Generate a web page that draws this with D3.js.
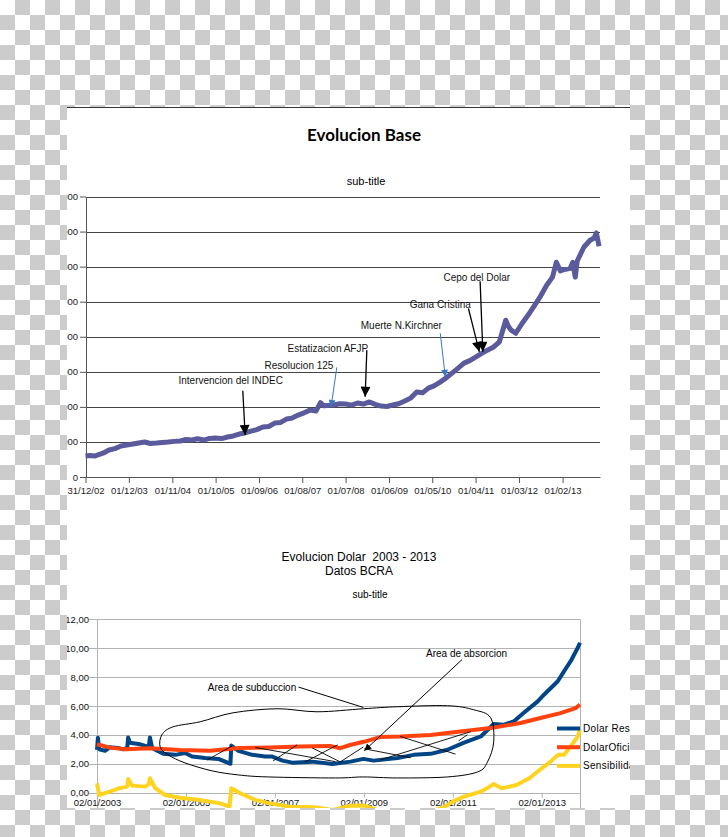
<!DOCTYPE html>
<html>
<head>
<meta charset="utf-8">
<script src="https://cdn.jsdelivr.net/npm/d3@7"></script>
<style>
body { margin: 0; }
text { font-family: "Liberation Sans", Arial, sans-serif; white-space: pre; }
</style>
</head>
<body>
<script>
//base monetaria (millones de pesos)
var baseDates = ["2002-12-31","2003-02-01","2003-03-15","2003-04-01","2003-05-15","2003-07-01","2003-08-15","2003-10-01","2003-11-15",
    "2004-01-01","2004-02-15","2004-04-01","2004-05-15","2004-07-01","2004-08-15","2004-10-01","2004-11-15",
    "2005-01-01","2005-02-15","2005-04-01","2005-05-15","2005-07-01","2005-08-15","2005-10-01","2005-11-15",
    "2006-01-01","2006-02-15","2006-04-01","2006-05-15","2006-07-01","2006-08-15","2006-10-01","2006-11-15",
    "2007-01-01","2007-02-15","2007-04-01","2007-05-15","2007-07-01","2007-08-15","2007-10-01","2007-11-15","2007-12-20",
    "2008-01-15","2008-04-01","2008-05-15","2008-07-01","2008-08-15","2008-10-01","2008-11-15",
    "2009-01-01","2009-02-15","2009-04-01","2009-05-15","2009-07-01","2009-08-15","2009-10-01","2009-11-15",
    "2010-01-01","2010-02-15","2010-04-01","2010-05-15","2010-07-01","2010-08-15","2010-10-01","2010-11-15",
    "2011-01-01","2011-02-15","2011-04-01","2011-05-15","2011-07-01","2011-08-15","2011-10-01","2011-11-20","2011-12-10",
    "2012-01-01","2012-02-05","2012-04-01","2012-05-15","2012-07-01","2012-08-15","2012-10-01","2012-11-15","2012-12-15",
    "2013-01-15","2013-02-15","2013-04-01","2013-04-20","2013-05-10","2013-05-25","2013-07-15","2013-09-01","2013-10-01","2013-10-20","2013-11-10"];
var baseValues = [29900,30500,29800,31300,34000,38500,40500,44200,45500,
    47000,48500,49900,47800,48400,49200,49900,50800,
    51300,53500,52700,54500,52700,55000,55500,54800,
    57000,58500,61300,62800,65500,67500,71200,72000,
    76900,77800,82600,84000,88300,91500,95400,94000,106000,
    101500,102600,104500,104000,102500,105400,104000,
    107000,103500,101100,100500,102600,104500,108300,112500,
    121100,120000,126800,130000,135300,141000,148100,155000,
    162400,166000,170900,176000,180900,185000,192300,223600,215000,
    209400,205000,220800,232000,245000,258000,273500,285000,306300,
    294000,296000,297700,306000,285000,308000,327600,337600,340500,348000,329100];

var baseTickDates = ["2002-12-31","2003-12-01","2004-11-01","2005-10-01","2006-09-01","2007-08-01",
    "2008-07-01","2009-06-01","2010-05-01","2011-04-01","2012-03-01","2013-02-01"];
var baseTickValues = [0,50000,100000,150000,200000,250000,300000,350000,400000];

//events on the top chart: label, label anchor date/value, arrow start and tip
var eventLabels = ["Intervencion del INDEC","Resolucion 125","Estatizacion AFJP","Muerte N.Kirchner","Gana Cristina","Cepo del Dolar"];
var eventTextDates = ["2004-12-18","2008-03-29","2008-12-22","2010-07-15","2011-02-23","2010-07-27"];
var eventTextValues = [132500,153800,178100,210800,240700,279200];
var eventTextAnchor = ["start","end","end","end","end","start"];
var eventFromDates = ["2006-04-29","2008-04-24","2008-12-12","2010-07-02","2011-02-05","2011-05-06"];
var eventFromValues = [122900,156300,180900,205100,240300,279200];
var eventToDates = ["2006-05-17","2008-03-11","2008-11-29","2010-08-10","2011-04-30","2011-05-27"];
var eventToValues = [59800,100100,114400,142900,178500,178500];
var eventColors = ["black","blue","black","blue","black","black"];

//dolar series (decimal years)
var resguardoYears = [2003.00,2003.02,2003.05,2003.18,2003.29,2003.47,2003.59,2003.68,2003.70,2003.74,2003.97,2004.13,2004.17,2004.19,2004.24,2004.31,2004.49,2004.76,2004.98,
    2005.14,2005.43,2005.73,2005.95,2006.00,2006.02,2006.18,2006.49,2006.78,2006.94,2007.17,2007.39,2007.84,2008.29,2008.70,2008.99,2009.22,2009.76,
    2010.12,2010.50,2010.88,2011.24,2011.63,2011.92,2012.14,2012.37,2012.59,2012.91,2013.05,2013.36,2013.50,2013.65,2013.81,2013.86];
var resguardoValues = [2.97,3.80,3.00,2.90,3.15,3.10,3.00,3.10,3.82,3.45,3.35,3.20,3.30,3.82,3.10,2.97,2.70,2.62,2.75,
    2.50,2.40,2.34,2.06,2.00,3.26,2.90,2.62,2.50,2.50,2.22,2.08,2.15,1.99,2.15,2.34,2.22,2.40,
    2.62,2.69,2.97,3.45,3.89,4.75,4.70,4.93,5.51,6.32,6.78,7.71,8.40,9.10,10.03,10.38];

var oficialYears = [2003.00,2003.29,2003.63,2004.19,2004.86,2005.54,2006.21,2006.89,2007.56,2008.24,2008.47,2008.69,2009.02,2009.36,2009.82,
    2010.50,2011.17,2011.85,2012.52,2012.97,2013.42,2013.76,2013.86];
var oficialValues = [3.35,3.12,3.00,3.08,2.96,2.90,3.10,3.13,3.20,3.24,3.08,3.30,3.54,3.85,3.89,
    4.00,4.24,4.47,4.82,5.17,5.51,5.86,6.09];

var sensibYears = [2003.00,2003.05,2003.29,2003.52,2003.68,2003.70,2003.79,2004.08,2004.17,2004.19,2004.31,2004.53,2004.86,2005.31,2005.77,2005.98,
    2006.02,2006.22,2006.56,2006.89,2007.34,2007.90,2008.30,2008.70,2009.00,2009.40,2010.00,2010.50,2010.80,
    2011.00,2011.24,2011.63,2011.83,2011.92,2012.10,2012.43,2012.72,2013.00,2013.20,2013.37,2013.50,2013.65,2013.81,2013.86];
var sensibValues = [0.65,-0.16,0.07,0.33,0.42,0.95,0.49,0.42,0.60,1.00,0.31,-0.16,-0.35,-0.50,-0.74,-0.97,
    0.31,-0.04,-0.50,-0.74,-0.97,-1.00,-1.20,-0.90,-0.88,-1.30,-1.60,-1.30,-1.00,
    -0.62,-0.28,0.07,0.42,0.60,0.30,0.53,1.00,1.69,2.15,2.62,2.62,3.19,3.89,4.35];

var dolarNames = ["Dolar Resguardo","DolarOficial","Sensibilidad"];
var dolarColors = ["#004586","#ff420e","#ffd320"];
var dolarTickYears = [2003,2005,2007,2009,2011,2013];
var dolarTickValues = [0,2,4,6,8,10,12];

//hand drawn notes on the bottom chart, in chart units (year, value)
var loopYears = [2004.46,2004.71,2005.32,2006.06,2007.05,2007.95,2008.99,2009.76,2010.88,2011.47,2011.85,2011.92,
    2011.78,2011.56,2010.88,2009.76,2008.99,2008.36,2006.85,2006.18,2005.59,2004.98,2004.60,2004.42];
var loopValues = [4.01,4.56,4.91,5.53,5.81,5.60,5.81,5.95,6.02,5.74,5.19,3.52,
    2.13,1.44,1.09,1.02,1.09,1.02,1.09,1.23,1.51,2.06,2.62,3.17];
var strokeFrom = [[2005.48,2.27],[2006.56,3.13],[2006.96,2.20],[2007.68,2.13],[2007.84,3.10],[2008.47,2.13],[2009.01,3.04],[2009.82,3.89],[2009.37,2.27],[2011.13,3.59]];
var strokeTo = [[2006.04,3.24],[2008.36,2.15],[2007.50,3.31],[2008.41,3.31],[2008.47,2.13],[2008.99,3.17],[2010.05,2.42],[2011.06,2.67],[2011.40,4.22],[2011.33,4.01]];

window.onload = setPage();

function setPage(){
    var width = 728,
        height = 837;

    var svg = d3.select("body")
        .append("svg")
        .attr("width", width)
        .attr("height", height);

    var defs = svg.append("defs");

    //transparent background checkerboard
    var pat = defs.append("pattern")
        .attr("id", "checker")
        .attr("patternUnits", "userSpaceOnUse")
        .attr("width", 30)
        .attr("height", 30);
    pat.append("rect").attr("width", 30).attr("height", 30).attr("fill", "#ffffff");
    pat.append("rect").attr("x", 15).attr("width", 15).attr("height", 15).attr("fill", "#cccccc");
    pat.append("rect").attr("y", 15).attr("width", 15).attr("height", 15).attr("fill", "#cccccc");

    defs.append("clipPath").attr("id", "page")
        .append("rect").attr("x", 67).attr("y", 107).attr("width", 563).attr("height", 701);

    //arrow heads
    addMarker(defs, "headBlack", "black", 13, 10);
    addMarker(defs, "headBlue", "#3a76c2", 10, 7);
    addMarker(defs, "headSmall", "black", 9, 7);

    svg.append("rect").attr("width", width).attr("height", height).attr("fill", "url(#checker)");
    svg.append("rect").attr("x", 67).attr("y", 107).attr("width", 563).attr("height", 701).attr("fill", "#ffffff");
    svg.append("line").attr("x1", 67).attr("x2", 630).attr("y1", 107.5).attr("y2", 107.5)
        .attr("stroke", "#333").attr("stroke-width", 1);

    var page = svg.append("g").attr("clip-path", "url(#page)");

    drawBase(page);
    drawDolar(page);
}

function addMarker(defs, id, color, len, wid){
    defs.append("marker")
        .attr("id", id)
        .attr("markerUnits", "userSpaceOnUse")
        .attr("viewBox", "0 0 10 10")
        .attr("refX", 10)
        .attr("refY", 5)
        .attr("markerWidth", len)
        .attr("markerHeight", wid)
        .attr("orient", "auto")
        .append("path")
        .attr("d", "M0,0L10,5L0,10Z")
        .attr("fill", color);
}

//top chart: Evolucion Base
function drawBase(g){
    var parseDate = d3.timeParse("%Y-%m-%d");

    var x = d3.scaleTime()
        .domain([parseDate("2002-12-31"), parseDate("2013-11-17")])
        .range([85.5, 600]);
    var y = d3.scaleLinear()
        .domain([0, 400000])
        .range([477, 196.5]);

    g.append("text").attr("x", 364).attr("y", 141)
        .attr("text-anchor", "middle")
        .style("font-family", "Lato, sans-serif")
        .style("font-weight", "bold")
        .style("font-size", "17px")
        .text("Evolucion Base");
    g.append("text").attr("x", 366).attr("y", 185)
        .attr("text-anchor", "middle")
        .style("font-size", "11px")
        .text("sub-title");

    //gridlines
    g.selectAll(".grid1")
        .data(baseTickValues.slice(1))
        .enter()
        .append("line")
        .attr("class", "grid1")
        .attr("x1", 86).attr("x2", 600)
        .attr("y1", function(d){ return Math.round(y(d)) + 0.5; })
        .attr("y2", function(d){ return Math.round(y(d)) + 0.5; })
        .attr("stroke", "#444")
        .attr("stroke-width", 1);

    var yAxis = g.append("g")
        .attr("transform", "translate(86,0)")
        .call(d3.axisLeft(y).tickValues(baseTickValues).tickFormat(d3.format("d")).tickSize(6).tickSizeOuter(0).tickPadding(2));
    var xAxis = g.append("g")
        .attr("transform", "translate(0,477)")
        .call(d3.axisBottom(x).tickValues(baseTickDates.map(parseDate)).tickFormat(d3.timeFormat("%d/%m/%y")).tickSize(6).tickSizeOuter(0).tickPadding(4));
    [yAxis, xAxis].forEach(function(a){
        a.selectAll("path, line").attr("stroke", "#555");
        a.selectAll("text").attr("fill", "#222").style("font-size", "9.5px")
            .style("font-family", "'Liberation Sans', Arial, sans-serif");
    });

    var table = baseDates.map(function(d, i){ return {date: parseDate(d), value: baseValues[i]}; });
    var line = d3.line()
        .x(function(d){ return x(d.date); })
        .y(function(d){ return y(d.value); });
    g.append("path")
        .datum(table)
        .attr("d", line)
        .attr("fill", "none")
        .attr("stroke", "#5a5a9c")
        .attr("stroke-width", 5)
        .attr("stroke-linejoin", "round");

    //event notes
    eventLabels.forEach(function(label, i){
        var blue = eventColors[i] == "blue";
        g.append("line")
            .attr("x1", x(parseDate(eventFromDates[i])))
            .attr("y1", y(eventFromValues[i]))
            .attr("x2", x(parseDate(eventToDates[i])))
            .attr("y2", y(eventToValues[i]))
            .attr("stroke", blue ? "#3a76c2" : "black")
            .attr("stroke-width", blue ? 1 : 1.3)
            .attr("marker-end", blue ? "url(#headBlue)" : "url(#headBlack)");
        g.append("text")
            .attr("x", x(parseDate(eventTextDates[i])))
            .attr("y", y(eventTextValues[i]))
            .attr("text-anchor", eventTextAnchor[i])
            .style("font-size", "10px")
            .attr("fill", "#111")
            .text(label);
    });
}

//bottom chart: Evolucion Dolar
function drawDolar(g){
    var x = d3.scaleLinear()
        .domain([2003, 2013.86])
        .range([97, 580]);
    var y = d3.scaleLinear()
        .domain([0, 12])
        .range([792.7, 619.3]);

    g.append("text").attr("x", 359).attr("y", 561)
        .attr("text-anchor", "middle").style("font-size", "12px")
        .text("Evolucion Dolar  2003 - 2013");
    g.append("text").attr("x", 359).attr("y", 575)
        .attr("text-anchor", "middle").style("font-size", "12px")
        .text("Datos BCRA");
    g.append("text").attr("x", 370).attr("y", 598)
        .attr("text-anchor", "middle").style("font-size", "10px")
        .text("sub-title");

    //grid and frame
    g.selectAll(".grid2")
        .data(dolarTickValues)
        .enter()
        .append("line")
        .attr("class", "grid2")
        .attr("x1", 89).attr("x2", 580)
        .attr("y1", function(d){ return Math.round(y(d)) + 0.5; })
        .attr("y2", function(d){ return Math.round(y(d)) + 0.5; })
        .attr("stroke", "#b3b3b3");
    g.append("line").attr("x1", 97.5).attr("x2", 97.5).attr("y1", y(12)).attr("y2", y(-2)).attr("stroke", "#b3b3b3");
    g.append("line").attr("x1", 580.5).attr("x2", 580.5).attr("y1", y(12)).attr("y2", y(-2)).attr("stroke", "#b3b3b3");

    var yAxis = g.append("g")
        .attr("transform", "translate(97,0)")
        .call(d3.axisLeft(y).tickValues(dolarTickValues).tickSize(0).tickPadding(8)
            .tickFormat(function(d){ return d3.format(".2f")(d).replace(".", ","); }));
    var xAxis = g.append("g")
        .attr("transform", "translate(0," + y(0) + ")")
        .call(d3.axisBottom(x).tickValues(dolarTickYears).tickSize(5).tickSizeOuter(0).tickPadding(2)
            .tickFormat(function(d){ return "02/01/" + d; }));
    [yAxis, xAxis].forEach(function(a){
        a.select(".domain").remove();
        a.selectAll("line").attr("stroke", "#b3b3b3");
        a.selectAll("text").attr("fill", "#111").style("font-size", "9.5px")
            .style("font-family", "'Liberation Sans', Arial, sans-serif");
    });

    var series = [
        {years: resguardoYears, values: resguardoValues},
        {years: oficialYears, values: oficialValues},
        {years: sensibYears, values: sensibValues}
    ];
    var line = d3.line()
        .x(function(d){ return x(d[0]); })
        .y(function(d){ return y(d[1]); });
    series.forEach(function(s, i){
        g.append("path")
            .datum(d3.zip(s.years, s.values))
            .attr("d", line)
            .attr("fill", "none")
            .attr("stroke", dolarColors[i])
            .attr("stroke-width", 4)
            .attr("stroke-linejoin", "round");
    });

    //legend
    dolarNames.forEach(function(name, i){
        var ly = 728.5 + i * 18.7;
        g.append("line").attr("x1", 557).attr("x2", 580).attr("y1", ly).attr("y2", ly)
            .attr("stroke", dolarColors[i]).attr("stroke-width", 4);
        g.append("text").attr("x", 583).attr("y", ly).attr("dy", "0.35em")
            .style("font-size", "10px").style("letter-spacing", "0.3px")
            .text(name);
    });

    //hand drawn notes
    g.append("path")
        .datum(d3.zip(loopYears, loopValues))
        .attr("d", line.curve(d3.curveCardinalClosed))
        .attr("fill", "none")
        .attr("stroke", "black")
        .attr("stroke-width", 1);
    line.curve(d3.curveLinear);

    strokeFrom.forEach(function(p, i){
        g.append("line")
            .attr("x1", x(p[0])).attr("y1", y(p[1]))
            .attr("x2", x(strokeTo[i][0])).attr("y2", y(strokeTo[i][1]))
            .attr("stroke", "black").attr("stroke-width", 0.9);
    });

    g.append("text").attr("x", x(2007.48)).attr("y", y(7.06))
        .attr("text-anchor", "end").style("font-size", "10px")
        .text("Area de subduccion");
    g.append("line")
        .attr("x1", x(2007.53)).attr("y1", y(7.31))
        .attr("x2", x(2008.99)).attr("y2", y(5.90))
        .attr("stroke", "black").attr("stroke-width", 1);

    g.append("text").attr("x", x(2011.31)).attr("y", y(9.42))
        .attr("text-anchor", "middle").style("font-size", "10px")
        .text("Area de absorcion");
    g.append("line")
        .attr("x1", x(2011.21)).attr("y1", y(9.22))
        .attr("x2", x(2009.01)).attr("y2", y(2.90))
        .attr("stroke", "black").attr("stroke-width", 1)
        .attr("marker-end", "url(#headSmall)");
}
</script>
</body>
</html>
